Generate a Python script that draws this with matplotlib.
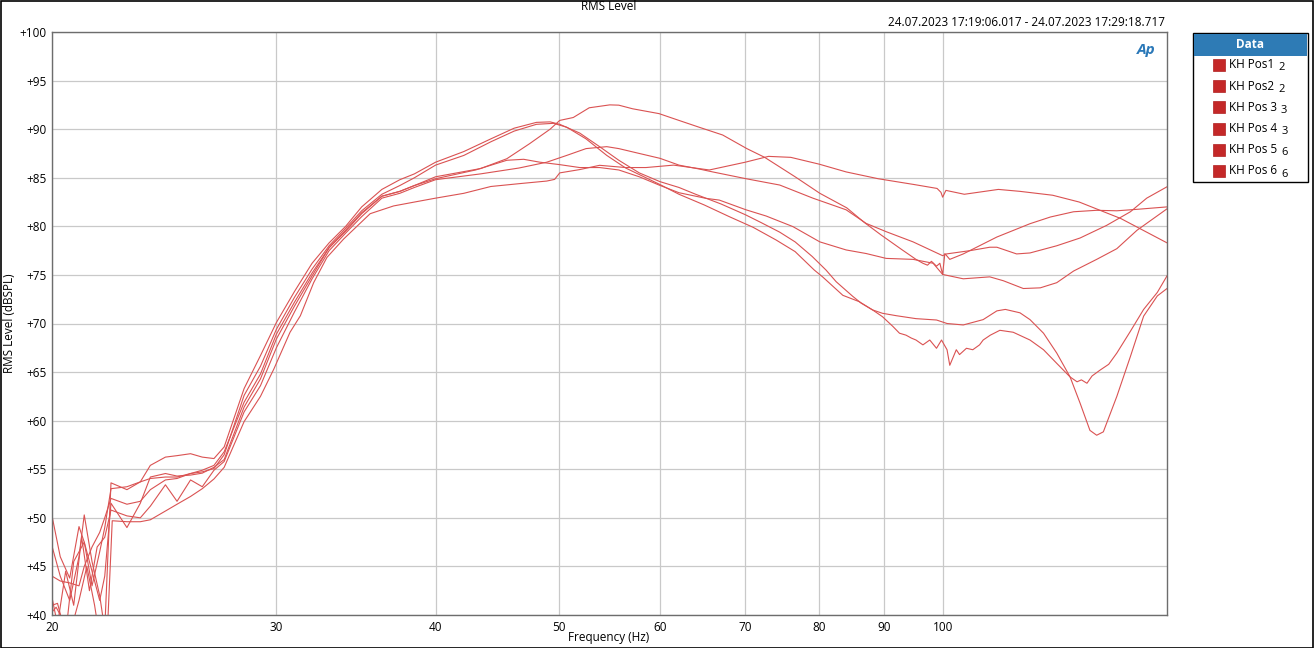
import matplotlib
matplotlib.use('Agg')
import matplotlib.pyplot as plt
from matplotlib.patches import Rectangle
from matplotlib.ticker import NullLocator

plt.rcParams['font.family'] = ['Open Sans', 'DejaVu Sans']

# ---------------- data ----------------
series_names = ['KH Pos1', 'KH Pos2', 'KH Pos 3', 'KH Pos 4', 'KH Pos 5', 'KH Pos 6']
series_counts = ['2', '2', '3', '3', '6', '6']

pos1_f = [20.0, 20.3, 20.65, 21.0, 21.2, 21.5, 21.8, 22.0, 22.25, 22.9, 23.46, 23.89, 24.55, 25.07, 25.69, 26.24,
          26.8, 27.3, 28.3, 29.15, 30, 31, 32, 33, 34, 35, 36.3, 37.5, 38.5, 40, 42.1, 44.2, 46.1, 48.0, 49.2, 50.06,
          51.9, 53.8, 55.7, 57.8, 60, 62.1, 64, 67, 70, 72, 74.5, 76.6, 79, 81, 82.5, 85, 86.3, 88.1, 89.7, 91.4, 92.5,
          93.6, 94.5, 95.3, 96.5, 97.7, 98.9, 99.8, 100.8, 101.3, 102.5, 103.1, 104.4, 105.6, 106.9, 107.6, 109, 110.9,
          113.6, 117.1, 120, 122.9, 125.9, 127.5, 128.5, 129.8, 131, 132.9, 135, 137, 140.4, 143.8, 147.4, 150]
pos1_db = [47.1, 44.0, 41.5, 46.0, 50.3, 45.5, 42.0, 38.5, 53.6, 52.9, 53.7, 55.4, 56.25, 56.4, 56.6, 56.25,
           56.1, 57.3, 63.3, 66.7, 70.1, 73.3, 76.2, 78.3, 80.0, 82.0, 83.8, 84.8, 85.4, 86.6, 87.7, 89.0, 90.1, 90.7,
           90.75, 90.5, 89.6, 88.2, 86.8, 85.5, 84.6, 84.0, 83.3, 82.3, 81.2, 80.4, 79.4, 78.4, 76.9, 75.5, 74.3, 72.8,
           72.1, 71.4, 70.7, 69.7, 69.0, 68.8, 68.5, 68.3, 67.8, 68.3, 67.45, 68.3, 67.3, 65.7, 67.3, 66.8, 67.45,
           67.3, 67.8, 68.3, 68.8, 69.3, 69.1, 68.3, 67.3, 65.9, 64.5, 64.0, 64.2, 63.85, 64.6, 65.2, 65.8, 66.96,
           69.2, 71.45, 73.2, 74.9]

pos2_f = [20.0, 20.3, 20.65, 21.0, 21.2, 21.5, 21.8, 22.0, 22.25, 22.9, 23.46, 23.89, 24.55, 25.07, 25.69, 26.24,
          26.8, 27.3, 28.3, 29.15, 30, 31, 32, 33, 34, 35, 36.3, 37.5, 38.5, 40, 42.1, 44.2, 46.1, 48.0, 49.5, 50.7,
          52.5, 54.5, 56.4, 58.5, 60, 62.1, 65, 68, 71, 74, 76.6, 79.3, 80.5, 83.5, 86.0, 88.1, 89.7, 92, 95.3, 98.9,
          100.8, 103.8, 107.6, 110.3, 112, 115, 117.1, 120, 122.9, 125.9, 128.2, 130.5, 132.1, 133.7, 137, 140.4,
          143.8, 147.4, 150]
pos2_db = [50.2, 46.0, 43.8, 49.1, 47.5, 43.0, 46.5, 49.0, 53.0, 53.2, 53.7, 54.05, 54.2, 54.2, 54.56, 54.73,
           55.07, 56.5, 62.6, 65.6, 69.4, 72.7, 75.6, 78.0, 79.8, 81.6, 83.3, 84.2, 85.0, 86.3, 87.3, 88.7, 89.8, 90.5,
           90.6, 90.2, 89.0, 87.3, 86.0, 85.0, 84.3, 83.3, 82.2, 81.0, 79.9, 78.6, 77.4, 75.5, 74.8, 72.9, 72.25, 71.4,
           71.05, 70.8, 70.5, 70.36, 70.0, 69.85, 70.4, 71.3, 71.45, 71.1, 70.4, 69.0, 66.96, 64.5, 61.8, 59.0, 58.5,
           58.85, 62.5, 66.6, 70.76, 72.84, 73.6]

pos3_f = [20.0, 20.3, 20.65, 21.0, 21.2, 21.5, 21.8, 22.0, 22.25, 22.9, 23.46, 23.89, 24.55, 25.07, 25.69, 26.24,
          26.8, 27.3, 28.3, 29.15, 30, 31, 32, 33, 34, 35, 36.3, 37.5, 38.5, 40, 43.4, 45.5, 47.4, 49.2, 50.06, 51.3,
          52.8, 54.8, 55.7, 57.1, 59.9, 62.1, 64.4, 67.2, 70.2, 72.5, 76.6, 80.1, 84.1, 86.8, 89.5, 92.9, 95.3, 96.5,
          97.3, 98.0, 98.9, 99.5, 100.0, 100.4, 101.3, 103.8, 110.3, 117.1, 121.5, 126.7, 132.1, 137, 142.1, 150]
pos3_db = [44.0, 43.5, 43.3, 43.0, 45.0, 47.0, 48.5, 50.0, 52.0, 51.4, 51.7, 52.9, 53.9, 54.05, 54.56, 54.9,
           55.4, 56.8, 61.9, 64.8, 68.9, 72.2, 75.2, 77.8, 79.6, 81.4, 83.1, 83.6, 84.2, 85.1, 85.95, 86.96, 88.5,
           90.0, 90.9, 91.2, 92.2, 92.5, 92.47, 92.1, 91.6, 90.9, 90.2, 89.4, 88.0, 87.1, 85.1, 83.4, 81.9, 80.4,
           79.1, 77.6, 76.6, 76.2, 76.0, 76.4, 75.9, 76.2, 75.05, 77.2, 76.6, 77.16, 78.9, 80.27, 80.96, 81.5,
           81.65, 81.6, 81.75, 82.0]

pos4_f = [20.0, 20.2, 20.5, 20.8, 21.2, 21.5, 21.8, 22.0, 22.25, 22.9, 23.46, 23.89, 24.55, 25.07, 25.69, 26.24,
          26.8, 27.3, 28.3, 29.15, 30, 31, 32, 33, 34, 35, 36.3, 37.5, 38.5, 40, 43, 45.5, 46.9, 48.3, 50.06, 51.9,
          53.8, 55.7, 57.8, 59.9, 62.1, 65.2, 66.8, 70.1, 72.7, 76.3, 80.1, 84.0, 87.1, 90.3, 94.8, 98.3, 100, 103.8,
          108.9, 111.6, 115.7, 119.3, 122.9, 126.7, 132.1, 137, 142.1, 150]
pos4_db = [41.0, 41.2, 38.0, 45.5, 47.5, 44.5, 41.5, 44.0, 51.5, 49.0, 51.5, 54.2, 54.56, 54.3, 54.4, 54.6,
           55.2, 56.0, 61.4, 64.3, 68.4, 71.8, 74.9, 77.8, 79.5, 81.3, 83.1, 83.6, 84.2, 84.9, 85.8, 86.8, 86.9,
           86.6, 86.35, 86.05, 86.05, 85.8, 85.1, 84.25, 83.46, 82.88, 82.7, 81.7, 81.06, 79.97, 78.4, 77.57, 77.2,
           76.7, 76.6, 76.2, 75.05, 74.6, 74.8, 74.4, 73.6, 73.67, 74.2, 75.4, 76.6, 77.7, 79.6, 81.8]

pos5_f = [20.0, 20.2, 20.5, 20.8, 21.1, 21.4, 21.7, 22.0, 22.25, 22.9, 23.46, 23.89, 24.55, 25.07, 25.69, 26.24,
          26.8, 27.3, 28.3, 29.15, 30, 31, 32, 33, 34, 35, 36.3, 37.5, 38.5, 40, 43.4, 46.5, 48.9, 50.7, 52.5, 54.5,
          55.7, 57.8, 60, 62.1, 64.4, 66.0, 70.1, 74.5, 79.1, 84.0, 87.1, 90.3, 94.8, 100, 100.7, 105.1, 108.9, 110.3,
          114.3, 117.1, 122.9, 128.2, 134.5, 140.4, 144.6, 150]
pos5_db = [41.8, 39.0, 44.5, 41.0, 48.0, 42.5, 47.0, 48.0, 50.8, 50.2, 50.0, 51.2, 53.4, 51.7, 53.9, 53.2,
           54.9, 55.8, 60.9, 63.6, 67.5, 71.2, 74.6, 77.5, 79.3, 81.0, 82.9, 83.4, 84.0, 84.8, 85.4, 86.0, 86.6,
           87.3, 88.0, 88.2, 88.0, 87.5, 87.0, 86.3, 85.9, 85.6, 84.9, 84.25, 82.9, 81.7, 80.3, 79.45, 78.4, 76.98,
           77.16, 77.5, 77.85, 77.85, 77.16, 77.26, 78.0, 78.8, 80.1, 81.5, 82.9, 84.07]

pos6_f = [20.0, 20.15, 20.4, 20.7, 21.0, 21.3, 21.6, 21.9, 22.1, 22.3, 22.9, 23.46, 23.89, 24.55, 25.07, 25.69,
          26.24, 26.8, 27.3, 28.3, 29.15, 29.86, 30.75, 31.33, 32.09, 32.87, 33.88, 35.54, 36.3, 37.08, 38.5, 40,
          42.1, 44.2, 46.6, 48.9, 49.6, 50.06, 51.9, 53.8, 56.4, 58.5, 61.5, 65.6, 70, 73, 76, 80, 84, 89, 95, 99,
          99.7, 100, 100.6, 104, 110.6, 115, 122, 128, 138, 150]
pos6_db = [40.3, 40.8, 39.5, 38.5, 41.5, 45.0, 41.0, 36.0, 38.0, 49.7, 49.6, 49.6, 49.8, 50.7, 51.4, 52.2,
           53.0, 54.0, 55.2, 59.9, 62.5, 65.3, 69.1, 70.8, 74.2, 76.8, 78.7, 81.3, 81.7, 82.1, 82.5, 82.9, 83.4,
           84.1, 84.4, 84.66, 84.83, 85.5, 85.84, 86.28, 86.05, 86.05, 86.3, 85.8, 86.6, 87.2, 87.1, 86.4, 85.6,
           84.9, 84.3, 83.9, 83.5, 83.0, 83.7, 83.3, 83.8, 83.6, 83.2, 82.5, 80.8, 78.3]

freq_ticks = [20, 30, 40, 50, 60, 70, 80, 90, 100]
level_ticks = [40, 45, 50, 55, 60, 65, 70, 75, 80, 85, 90, 95, 100]

series_f = [pos1_f, pos2_f, pos3_f, pos4_f, pos5_f, pos6_f]
series_db = [pos1_db, pos2_db, pos3_db, pos4_db, pos5_db, pos6_db]

# ---------------- figure ----------------
W, H = 1314, 648
fig = plt.figure(figsize=(W / 100, H / 100), dpi=100)
fig.patch.set_facecolor('white')

def fx(px):
    return px / W

def fy(py):
    return 1 - py / H

ax = fig.add_axes([fx(52), fy(615), (1167 - 52) / W, (615 - 32) / H])
ax.set_xscale('log')
ax.set_xlim(20, 150)
ax.set_ylim(40, 100)
ax.set_xticks(freq_ticks)
ax.set_xticklabels([str(v) for v in freq_ticks])
ax.xaxis.set_minor_locator(NullLocator())
ax.set_yticks(level_ticks)
ax.set_yticklabels(['+%d' % v for v in level_ticks])
ax.tick_params(length=0, labelsize=8.5, pad=4, colors='#000000')
ax.grid(True, color='#c9c9c9', lw=0.9)
ax.set_axisbelow(True)
for s in ax.spines.values():
    s.set_color('#6d6d6d')
    s.set_linewidth(1.0)

for f, d in zip(series_f, series_db):
    ax.plot(f, d, color='#da5252', lw=0.8, solid_joinstyle='round')

fig.text(fx(609), fy(637), 'Frequency (Hz)', ha='center', va='center', fontsize=8.5)
fig.text(fx(10), fy(323), 'RMS Level (dBSPL)', ha='center', va='center', rotation=90, fontsize=8.5)
fig.text(fx(609), fy(7), 'RMS Level', ha='center', va='center', fontsize=8.5)
fig.text(fx(1165), fy(22), '24.07.2023 17:19:06.017 - 24.07.2023 17:29:18.717', ha='right', va='center',
         fontsize=8.5)
fig.text(fx(1146), fy(50), 'Ap', ha='center', va='center', fontsize=11, fontweight='bold', fontstyle='italic',
         color='#2a78b8')

# outer border
fig.add_artist(Rectangle((0.5 / W, 0.5 / H), 1 - 1.5 / W, 1 - 1.5 / H, transform=fig.transFigure,
                         fill=False, edgecolor='black', lw=1.2))

# legend box
lx0, lx1, ly0, ly1 = 1193, 1308, 33, 182
fig.add_artist(Rectangle((fx(lx0), fy(ly1)), (lx1 - lx0) / W, (ly1 - ly0) / H, transform=fig.transFigure,
                         facecolor='white', edgecolor='black', lw=1.0))
fig.add_artist(Rectangle((fx(lx0 + 1), fy(56)), (lx1 - lx0 - 2) / W, (56 - ly0 - 1) / H, transform=fig.transFigure,
                         facecolor='#2e7bb5', edgecolor='none'))
fig.text(fx(1250), fy(45), 'Data', ha='center', va='center', fontsize=8.5, fontweight='bold', color='white')

renderer = fig.canvas.get_renderer()
for i, (name, cnt) in enumerate(zip(series_names, series_counts)):
    cy = 65 + 21.2 * i
    fig.add_artist(Rectangle((fx(1213), fy(cy + 6)), 12 / W, 12 / H, transform=fig.transFigure,
                             facecolor='#c42828', edgecolor='#b02020', lw=0.5))
    t = fig.text(fx(1229), fy(cy), name, ha='left', va='center', fontsize=8.5)
    bb = t.get_window_extent(renderer=renderer)
    fig.text(bb.x1 / W + 4 / W, fy(cy + 3), cnt, ha='left', va='center', fontsize=8)

fig.savefig('out.png', dpi=100)
